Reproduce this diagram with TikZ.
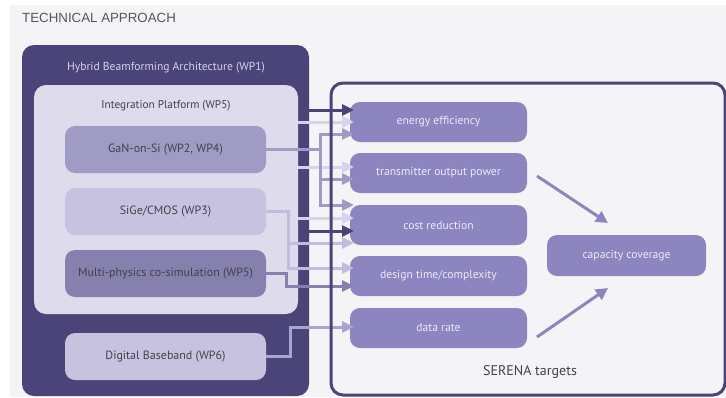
\documentclass[tikz,border=0pt]{standalone}
\usepackage{fontspec}
\setmainfont{PT Sans}
\newfontfamily\titlefont{Liberation Sans}
\usetikzlibrary{arrows.meta,calc}
\definecolor{bggray}{RGB}{244,244,246}
\definecolor{wpdark}{RGB}{74,68,120}
\definecolor{ipfill}{RGB}{222,219,237}
\definecolor{ganfill}{RGB}{160,155,196}
\definecolor{sigefill}{RGB}{198,194,224}
\definecolor{mpfill}{RGB}{134,128,174}
\definecolor{tgfill}{RGB}{141,133,191}
\definecolor{lightln}{RGB}{214,211,234}
\definecolor{sigeln}{RGB}{192,188,221}
\definecolor{dbln}{RGB}{170,165,208}
\definecolor{txtdark}{RGB}{66,66,76}
\definecolor{txtwp}{RGB}{214,211,236}
\definecolor{txttg}{RGB}{236,235,248}
\definecolor{titlegray}{RGB}{85,85,90}
\begin{document}
\begin{tikzpicture}[x=1pt,y=-1pt,
  box/.style={rectangle, inner sep=0pt, outer sep=0pt, anchor=north west, rounded corners=10pt},
  inbox/.style={box, minimum width=201pt, minimum height=47pt},
  tgbox/.style={box, fill=tgfill, minimum width=177pt, minimum height=40pt},
  intxt/.style={text=txtdark, font=\fontsize{12}{14}\selectfont},
  tgtxt/.style={text=txttg, font=\fontsize{11.6}{14}\selectfont},
  conn/.style={line width=3pt, -{Triangle[length=12pt,width=11pt]}, shorten >=-4pt},
  darkc/.style={conn, draw=wpdark},
  lightc/.style={conn, draw=lightln},
  ganc/.style={conn, draw=ganfill},
  sigec/.style={conn, draw=sigeln},
  mpc/.style={conn, draw=mpfill},
  dbc/.style={conn, draw=dbln},
  capc/.style={line width=3pt, draw=tgfill, -{Triangle[length=12pt,width=12pt]}}
]
\useasboundingbox (0,0) rectangle (726,397);
\fill[white] (0,0) rectangle (726,397);
\fill[bggray] (10,5) rectangle (726,397);

\node[anchor=west, inner sep=0pt, text=titlegray, font=\titlefont\fontsize{13.3}{15}\selectfont] (title) at (22,17.5) {TECHNICAL APPROACH};

% left column
\node[box, fill=wpdark, minimum width=287pt, minimum height=351pt, rounded corners=12pt] (wp1) at (22,45) {};
\node[text=txtwp, font=\fontsize{11.6}{14}\selectfont] (wp1lbl) at (166,68) {Hybrid Beamforming Architecture (WP1)};
\node[box, fill=ipfill, minimum width=264pt, minimum height=229pt, rounded corners=12pt] (ip) at (34,85) {};
\node[intxt, font=\fontsize{11.3}{14}\selectfont] (iplbl) at (166,106) {Integration Platform (WP5)};
\node[inbox, fill=ganfill] (gan) at (65,126) {};
\node[intxt] (ganlbl) at (gan.center) {GaN-on-Si (WP2, WP4)};
\node[inbox, fill=sigefill] (sige) at (65,188) {};
\node[intxt] (sigelbl) at (sige.center) {SiGe/CMOS (WP3)};
\node[inbox, fill=mpfill] (mp) at (65,250) {};
\node[intxt] (mplbl) at (mp.center) {Multi-physics co-simulation (WP5)};
\node[inbox, fill=sigefill] (db) at (65,333) {};
\node[intxt] (dblbl) at (db.center) {Digital Baseband (WP6)};

% targets
\node[tgbox] (ee) at (350,102) {};
\node[tgtxt] (eelbl) at (ee.center) {energy efficiency};
\node[tgbox] (top) at (350,153) {};
\node[tgtxt] (toplbl) at (top.center) {transmitter output power};
\node[tgbox] (cr) at (350,205) {};
\node[tgtxt] (crlbl) at (cr.center) {cost reduction};
\node[tgbox] (dt) at (350,256) {};
\node[tgtxt] (dtlbl) at (dt.center) {design time/complexity};
\node[tgbox] (dr) at (350,308) {};
\node[tgtxt] (drlbl) at (dr.center) {data rate};
\node[tgbox, minimum width=159pt, minimum height=41pt] (cc) at (547,235) {};
\node[tgtxt] (cclbl) at (cc.center) {capacity coverage};

% junctions
\coordinate (gj) at ($(gan.east)+(54,0)$);
\coordinate (sj) at ($(sige.east)+(22,0)$);
\coordinate (mj) at ($(mp.east)+(20,0)$);
\coordinate (dj) at ($(db.east)+(24,0)$);

% connectors
\draw[darkc] ($(wp1.east |- ee.west)+(0,-12)$) -- ($(ee.west)+(0,-12)$);
\draw[lightc] (ip.east |- ee.west) -- (ee.west);
\draw[ganc] (gan.east) -- (gj) |- ($(ee.west)+(0,12)$);
\draw[lightc] ($(ip.east |- top.west)+(0,-6)$) -- ($(top.west)+(0,-6)$);
\draw[ganc] (gj) |- ($(top.west)+(0,6)$);
\draw[ganc] (gj) |- ($(cr.west)+(0,-20)$);
\draw[lightc] ($(ip.east |- cr.west)+(0,-7)$) -- ($(cr.west)+(0,-7)$);
\draw[darkc] ($(wp1.east |- cr.west)+(0,6)$) -- ($(cr.west)+(0,6)$);
\draw[sigec] (sige.east) -- (sj) |- ($(cr.west)+(0,18)$);
\draw[sigec] (sj) |- ($(dt.west)+(0,-8)$);
\draw[mpc] (mp.east) -- (mj) |- ($(dt.west)+(0,10)$);
\draw[dbc] (db.east) -- (dj) |- ($(dr.west)+(0,-1)$);

% outcome arrows
\draw[capc] ($(top.east)+(10,3)$) -- ($(cc.north west)+(61,-12)$);
\draw[capc] ($(dr.east)+(10,9)$) -- ($(cc.south west)+(61,12)$);

% SERENA frame
\node[box, draw=wpdark, line width=3pt, minimum width=394pt, minimum height=312pt, rounded corners=12pt] (serena) at (331,83) {};
\node[text=txtdark, font=\fontsize{14}{16}\selectfont] (serlbl) at (530,372) {SERENA targets};
\end{tikzpicture}
\end{document}
